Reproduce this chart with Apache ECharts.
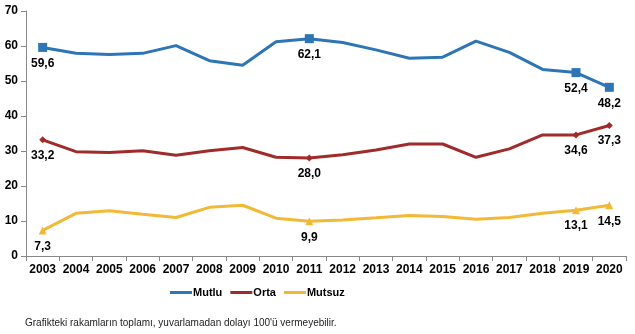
<!DOCTYPE html>
<html><head><meta charset="utf-8">
<script src="https://cdn.jsdelivr.net/npm/echarts@6/dist/echarts.min.js"></script>
<style>html,body{margin:0;padding:0;background:#fff}#c{width:635px;height:334px}</style>
</head><body><div id="c"></div>
<script>
var years = ['2003','2004','2005','2006','2007','2008','2009','2010','2011','2012','2013','2014','2015','2016','2017','2018','2019','2020'];
var mutlu = [59.6,57.9,57.6,57.9,60.1,55.8,54.5,61.2,62.1,61.0,58.9,56.5,56.8,61.4,58.2,53.3,52.4,48.2];
var orta = [33.2,29.8,29.6,30.1,28.8,30.1,31.0,28.2,28.0,28.9,30.3,32.0,32.0,28.2,30.6,34.6,34.6,37.3];
var mutsuz = [7.3,12.2,12.9,11.9,11.0,13.9,14.5,10.8,9.9,10.3,10.9,11.6,11.3,10.5,11.0,12.2,13.1,14.5];
var labeled = [0, 8, 16, 17];
var yTicks = [0,10,20,30,40,50,60,70];

var font = 'Liberation Sans, Arial, sans-serif';
function fmt(v){ return v.toFixed(1).replace('.', ','); }
function build(arr, sym, size){
  return arr.map(function(v,i){
    if (labeled.indexOf(i) >= 0) {
      return {value: v, symbol: sym, symbolSize: size,
        label: {show: true, position: 'bottom', distance: 6, formatter: fmt(v),
          color: '#000', fontFamily: font, fontWeight: 'bold', fontSize: 12}};
    }
    return {value: v, symbol: 'none'};
  });
}
function series(name, arr, color, sym, size){
  return {name: name, type: 'line', data: build(arr, sym, size), showSymbol: true,
    lineStyle: {color: color, width: 3}, itemStyle: {color: color},
    label: {show: false}, animation: false, emphasis: {disabled: true}};
}
var chart = echarts.init(document.getElementById('c'));
chart.setOption({
  animation: false,
  grid: {left: 26, right: 9, top: 11, bottom: 78, containLabel: false},
  title: {text: 'Grafikteki rakamların toplamı, yuvarlamadan dolayı 100\'ü vermeyebilir.',
    left: 25, top: 318, padding: 0, textStyle: {fontFamily: font, fontSize: 10, fontWeight: 'normal', color: '#222'}},
  legend: {top: 287, left: 170, icon: 'rect', itemWidth: 22, itemHeight: 3, itemGap: 8, padding: 0,
    textStyle: {fontFamily: font, fontWeight: 'bold', fontSize: 11, color: '#000', padding: [0,0,0,-4]},
    data: ['Mutlu','Orta','Mutsuz']},
  xAxis: {type: 'category', data: years, boundaryGap: true,
    axisLine: {lineStyle: {color: '#888'}},
    axisTick: {show: true, alignWithLabel: false, length: 5, lineStyle: {color: '#888'}},
    axisLabel: {fontFamily: font, fontWeight: 'bold', fontSize: 12, color: '#000', margin: 8, interval: 0}},
  yAxis: {type: 'value', min: 0, max: 70, interval: 10,
    axisLine: {show: true, lineStyle: {color: '#888'}},
    axisTick: {show: true, length: 5, lineStyle: {color: '#888'}},
    splitLine: {show: false},
    axisLabel: {fontFamily: font, fontWeight: 'bold', fontSize: 12, color: '#000', margin: 8,
      formatter: function(v){ return yTicks.indexOf(v) >= 0 ? String(v) : ''; }}},
  series: [
    series('Mutlu', mutlu, '#2E75B6', 'rect', 9),
    series('Orta', orta, '#A02B2B', 'diamond', 7),
    series('Mutsuz', mutsuz, '#F2B937', 'triangle', 8)
  ]
});
</script></body></html>
